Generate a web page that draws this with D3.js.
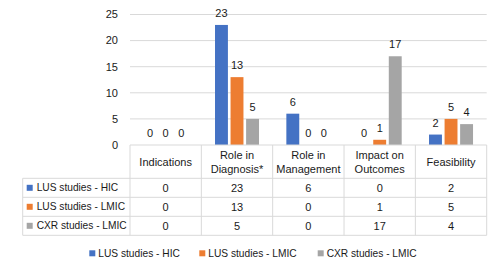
<!DOCTYPE html>
<html>
<head>
<meta charset="utf-8">
<script src="https://cdn.jsdelivr.net/npm/d3@7"></script>
<style>
  body { margin: 0; background: #fff; }
  svg text { font-family: "Liberation Sans", Arial, sans-serif; fill: #1a1a1a; }
</style>
</head>
<body>
<div id="chart"></div>
<script>
// data
const categories = [["Indications"], ["Role in", "Diagnosis*"], ["Role in", "Management"], ["Impact on", "Outcomes"], ["Feasibility"]];
const seriesNames = ["LUS studies - HIC", "LUS studies - LMIC", "CXR studies - LMIC"];
const lusHic = [0, 23, 6, 0, 2];
const lusLmic = [0, 13, 0, 1, 5];
const cxrLmic = [0, 5, 0, 17, 4];
const yTicks = [0, 5, 10, 15, 20, 25];

const series = [lusHic, lusLmic, cxrLmic];
const colors = ["#4472C4", "#ED7D31", "#A5A5A5"];

const W = 501, H = 273;
const plot = {left: 130, right: 486.7, top: 14.5, bottom: 145};
const tableLeft = 22.7;
const rowLines = [145, 178.3, 197.3, 216.3, 235.3];

const svg = d3.select("#chart").append("svg")
    .attr("width", W)
    .attr("height", H);

const x = d3.scaleBand()
    .domain(d3.range(categories.length))
    .range([plot.left, plot.right]);

const xInner = d3.scaleBand()
    .domain(d3.range(series.length))
    .range([0, 44])
    .paddingInner(0.17);

const y = d3.scaleLinear()
    .domain([0, 25])
    .range([plot.bottom, plot.top]);

// gridlines
svg.append("g")
    .selectAll("line")
    .data(yTicks.slice(1))
    .join("line")
    .attr("x1", plot.left)
    .attr("x2", plot.right)
    .attr("y1", d => y(d))
    .attr("y2", d => y(d))
    .attr("stroke", "#d9d9d9")
    .attr("stroke-width", 1);

// y labels
svg.append("g")
    .selectAll("text")
    .data(yTicks)
    .join("text")
    .attr("x", 118)
    .attr("y", d => y(d))
    .attr("dy", "0.35em")
    .attr("text-anchor", "end")
    .attr("font-size", 11)
    .text(d => d);

// bars
const groupOffset = (x.bandwidth() - 44) / 2;
series.forEach((vals, s) => {
    svg.append("g")
        .attr("fill", colors[s])
        .selectAll("rect")
        .data(vals)
        .join("rect")
        .attr("x", (d, i) => x(i) + groupOffset + xInner(s))
        .attr("y", d => y(d))
        .attr("width", xInner.bandwidth())
        .attr("height", d => y(0) - y(d));

    svg.append("g")
        .selectAll("text")
        .data(vals)
        .join("text")
        .attr("x", (d, i) => x(i) + groupOffset + xInner(s) + xInner.bandwidth() / 2)
        .attr("y", d => y(d) - 8)
        .attr("text-anchor", "middle")
        .attr("font-size", 11)
        .text(d => d);
});

// table lines
const tbl = svg.append("g")
    .attr("stroke", "#d9d9d9")
    .attr("stroke-width", 1);

rowLines.forEach((ry, r) => {
    tbl.append("line")
        .attr("x1", r === 0 ? plot.left : tableLeft)
        .attr("x2", plot.right)
        .attr("y1", ry).attr("y2", ry);
});
tbl.append("line")
    .attr("x1", tableLeft).attr("x2", tableLeft)
    .attr("y1", rowLines[1]).attr("y2", rowLines[4]);
d3.range(categories.length + 1).forEach(i => {
    const vx = i < categories.length ? x(i) : plot.right;
    tbl.append("line")
        .attr("x1", vx).attr("x2", vx)
        .attr("y1", plot.bottom).attr("y2", rowLines[4]);
});

// header
categories.forEach((lines, i) => {
    const cx = x(i) + x.bandwidth() / 2;
    const cy = (rowLines[0] + rowLines[1]) / 2;
    lines.forEach((ln, k) => {
        svg.append("text")
            .attr("x", cx)
            .attr("y", cy + (k - (lines.length - 1) / 2) * 14)
            .attr("dy", "0.35em")
            .attr("text-anchor", "middle")
            .attr("font-size", 11)
            .text(ln);
    });
});

// rows
series.forEach((vals, s) => {
    const cy = (rowLines[s + 1] + rowLines[s + 2]) / 2;
    svg.append("rect")
        .attr("x", 26.7)
        .attr("y", cy - 3)
        .attr("width", 6)
        .attr("height", 6)
        .attr("fill", colors[s]);
    svg.append("text")
        .attr("x", 36.7)
        .attr("y", cy)
        .attr("dy", "0.35em")
        .attr("font-size", 10.2)
        .text(seriesNames[s]);
    svg.append("g")
        .selectAll("text")
        .data(vals)
        .join("text")
        .attr("x", (d, i) => x(i) + x.bandwidth() / 2)
        .attr("y", cy)
        .attr("dy", "0.35em")
        .attr("text-anchor", "middle")
        .attr("font-size", 11)
        .text(d => d);
});

// legend
const legendX = [89.3, 199.3, 317.7];
seriesNames.forEach((name, s) => {
    svg.append("rect")
        .attr("x", legendX[s])
        .attr("y", 253.3 - 3)
        .attr("width", 6)
        .attr("height", 6)
        .attr("fill", colors[s]);
    svg.append("text")
        .attr("x", legendX[s] + 9)
        .attr("y", 253.3)
        .attr("dy", "0.35em")
        .attr("font-size", 10.2)
        .text(name);
});
</script>
</body>
</html>
